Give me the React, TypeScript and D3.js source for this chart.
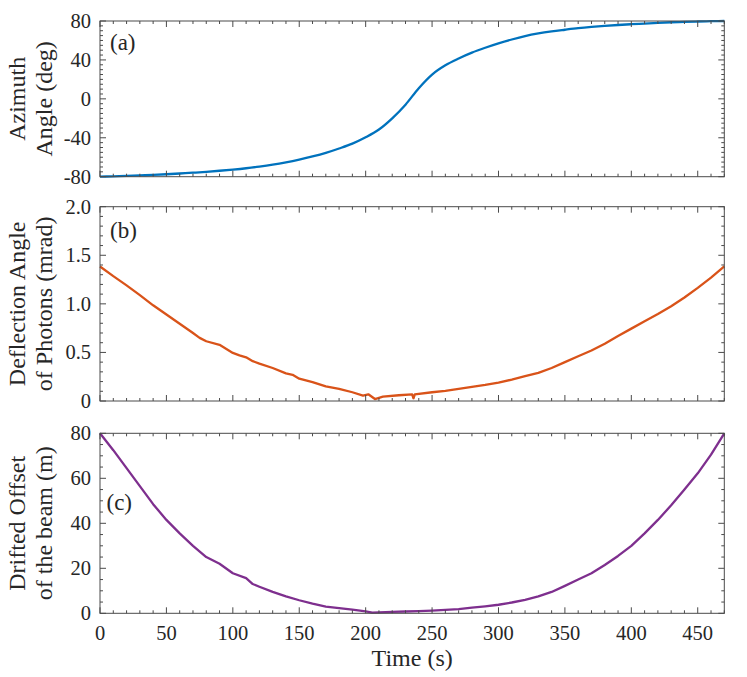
import React from 'react';
import * as d3 from 'd3';

// ---------- data ----------
const azimuthTime = [0,10,20,30,40,50,60,70,80,90,100,110,120,130,140,150,160,170,180,190,200,210,220,230,240,250,260,270,280,290,300,310,320,330,340,350,360,370,380,390,400,410,420,430,440,450,460,470];
const azimuthDeg = [-80,-79.6,-79.2,-78.7,-78.2,-77.5,-76.7,-75.9,-75.0,-73.9,-72.7,-71.3,-69.6,-67.6,-65.2,-62.4,-59.2,-55.5,-51.0,-46.0,-39.5,-31.5,-20.0,-6.0,11.0,25.0,34.5,41.5,47.5,52.5,57.0,61.0,64.5,67.2,69.3,71.0,72.6,73.9,75.0,75.9,76.7,77.4,78.1,78.7,79.1,79.5,79.8,80];

const deflectionTime = [0,10,20,30,40,50,60,70,75,80,90,100,105,110,115,120,130,140,145,150,160,170,180,190,198,202,207,213,225,235,236,237,250,260,270,280,290,300,310,320,330,340,350,360,370,380,390,400,410,420,430,440,450,460,470];
const deflectionMrad = [1.385,1.285,1.19,1.09,0.985,0.89,0.795,0.70,0.65,0.615,0.578,0.495,0.47,0.45,0.41,0.385,0.34,0.285,0.27,0.23,0.195,0.15,0.125,0.09,0.055,0.069,0.02,0.044,0.059,0.069,0.028,0.069,0.09,0.105,0.125,0.145,0.165,0.19,0.22,0.255,0.29,0.34,0.40,0.46,0.52,0.59,0.67,0.745,0.82,0.895,0.975,1.065,1.165,1.27,1.385];

const offsetTime = [0,10,20,30,40,50,60,70,80,90,100,110,115,120,130,140,150,160,170,180,190,200,205,210,220,230,240,250,260,270,280,290,300,310,320,330,340,350,360,370,380,390,400,410,420,430,440,450,460,470];
const offsetM = [80,72.5,64.5,56.5,48.5,41.5,35.5,30,25,22,17.8,15.6,13,11.8,9.5,7.5,5.8,4.3,3.0,2.3,1.6,0.9,0.3,0.4,0.6,0.8,1.0,1.2,1.5,1.9,2.5,3.1,3.8,4.8,6.0,7.5,9.5,12.2,15.0,17.8,21.5,25.5,30.0,35.5,41.5,48,55,62.2,70.5,80];

const xTicks = [0,50,100,150,200,250,300,350,400,450];
const xTickLabels = ['0','50','100','150','200','250','300','350','400','450'];

const aTicks = [-80,-40,0,40,80];
const aTickLabels = ['-80','-40','0','40','80'];
const bTicks = [0,0.5,1,1.5,2];
const bTickLabels = ['0','0.5','1.0','1.5','2.0'];
const cTicks = [0,20,40,60,80];
const cTickLabels = ['0','20','40','60','80'];

const FONT = '"Liberation Serif", "DejaVu Serif", "Tinos", "Nimbus Roman", "Nimbus Roman No9 L", "FreeSerif", "Noto Serif", "Times New Roman", Times, serif';
const AXIS = '#4a4a4a';
const TEXT = '#262626';

type PanelDef = {
  top: number; bottom: number; domain: [number, number];
  ticks: number[]; labels: string[]; minor: number;
  xs: number[]; ys: number[]; color: string;
  ylab: [string, string]; tag: string; tagY: number; tagX: number;
  curve: any;
};

export default function App() {
  const W = 747, H = 677;
  const L = 100, R = 724.3;
  const x = d3.scaleLinear().domain([0, 470]).range([L, R]);

  const panels: PanelDef[] = [
    { top: 21, bottom: 176.7, domain: [-80, 80], ticks: aTicks, labels: aTickLabels, minor: 5,
      xs: azimuthTime, ys: azimuthDeg, color: '#0072BD', ylab: ['Azimuth', 'Angle (deg)'],
      tag: '(a)', tagX: 110, tagY: 50, curve: d3.curveMonotoneX },
    { top: 206.7, bottom: 401, domain: [0, 2], ticks: bTicks, labels: bTickLabels, minor: 0.1,
      xs: deflectionTime, ys: deflectionMrad, color: '#D95319', ylab: ['Deflection Angle', 'of Photons (mrad)'],
      tag: '(b)', tagX: 110, tagY: 238, curve: d3.curveLinear },
    { top: 433.3, bottom: 613.3, domain: [0, 80], ticks: cTicks, labels: cTickLabels, minor: 5,
      xs: offsetTime, ys: offsetM, color: '#7E2F8E', ylab: ['Drifted Offset', 'of the beam (m)'],
      tag: '(c)', tagX: 106.5, tagY: 510, curve: d3.curveLinear },
  ];

  const xMinor = d3.range(0, 471, 10);
  const MAJ = 6, MIN = 3;
  const txt = { fontFamily: FONT, fill: TEXT } as React.CSSProperties;

  return (
    <svg width={W} height={H} style={{ position: 'absolute', left: 0, top: 0, display: 'block', background: '#fff', fontFamily: FONT }}>
      <rect x={0} y={0} width={W} height={H} fill="#fff" />
      {panels.map((p, pi) => {
        const y = d3.scaleLinear().domain(p.domain).range([p.bottom, p.top]);
        const line = d3.line<number>().x((_, i) => x(p.xs[i])).y((d) => y(d)).curve(p.curve);
        const nMinor = Math.round((p.domain[1] - p.domain[0]) / p.minor);
        const yMinor = d3.range(0, nMinor + 1).map((k) => p.domain[0] + k * p.minor);
        const cy = (p.top + p.bottom) / 2;
        const isBottom = pi === panels.length - 1;
        return (
          <g key={pi}>
            <path d={line(p.ys) || ''} fill="none" stroke={p.color} strokeWidth={2.3} strokeLinejoin="round" />
            {xMinor.map((t) => {
              const major = t % 50 === 0;
              const len = major ? MAJ : MIN;
              return (
                <g key={'x' + t}>
                  <line x1={x(t)} x2={x(t)} y1={p.bottom} y2={p.bottom - len} stroke={AXIS} strokeWidth={1} />
                  <line x1={x(t)} x2={x(t)} y1={p.top} y2={p.top + len} stroke={AXIS} strokeWidth={1} />
                </g>
              );
            })}
            {yMinor.map((v, k) => {
              const major = p.ticks.some((t) => Math.abs(t - v) < 1e-9);
              const len = major ? MAJ : MIN;
              return (
                <g key={'y' + k}>
                  <line x1={L} x2={L + len} y1={y(v)} y2={y(v)} stroke={AXIS} strokeWidth={1} />
                  <line x1={R} x2={R - len} y1={y(v)} y2={y(v)} stroke={AXIS} strokeWidth={1} />
                </g>
              );
            })}
            <rect x={L} y={p.top} width={R - L} height={p.bottom - p.top} fill="none" stroke={AXIS} strokeWidth={1} />
            {p.ticks.map((t, i) => (
              <text key={'yl' + i} x={91} y={y(t)} dy="0.34em" textAnchor="end" fontSize={20.5} style={txt}>
                {p.labels[i]}
              </text>
            ))}
            <text transform={`translate(25,${cy}) rotate(-90)`} textAnchor="middle" fontSize={24} style={txt}>
              {p.ylab[0]}
            </text>
            <text transform={`translate(51.5,${cy}) rotate(-90)`} textAnchor="middle" fontSize={24} style={txt}>
              {p.ylab[1]}
            </text>
            <text x={p.tagX} y={p.tagY} fontSize={23} style={txt}>{p.tag}</text>
            {isBottom && xTicks.map((t, i) => (
              <text key={'xl' + i} x={x(t)} y={640} textAnchor="middle" fontSize={20.5} style={txt}>
                {xTickLabels[i]}
              </text>
            ))}
          </g>
        );
      })}
      <text x={(L + R) / 2} y={666} textAnchor="middle" fontSize={24} style={txt}>Time (s)</text>
    </svg>
  );
}
